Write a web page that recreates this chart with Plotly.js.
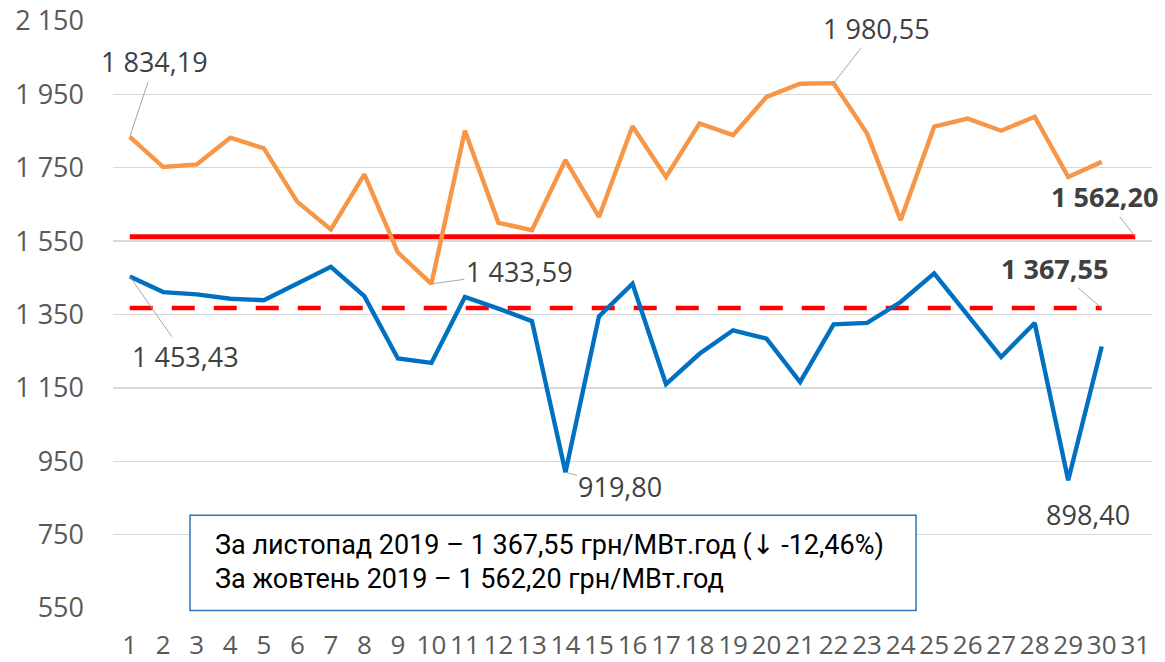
<!DOCTYPE html>
<html>
<head>
<meta charset="utf-8">
<script src="https://cdn.plot.ly/plotly-3.0.1.min.js"></script>
<style>
  html, body { margin: 0; padding: 0; background: #ffffff; }
  #chart { width: 1165px; height: 662px; }
</style>
</head>
<body>
<div id="chart"></div>
<script>
// Days of the month (category axis)
const days = ['1','2','3','4','5','6','7','8','9','10','11','12','13','14','15','16','17','18','19','20','21','22','23','24','25','26','27','28','29','30','31'];

// Daily prices, October 2019 (orange)
const octPrices = [1834.19, 1752, 1759, 1832, 1803, 1657, 1582, 1732, 1519, 1433.59,
                   1851, 1600, 1580, 1771, 1616, 1863, 1725, 1871, 1839, 1943,
                   1979, 1980.55, 1843, 1607, 1862, 1884, 1851, 1889, 1725, 1766];

// Daily prices, November 2019 (blue)
const novPrices = [1453.43, 1411, 1405, 1393, 1389, 1436, 1480, 1400, 1230, 1218,
                   1398, 1366, 1332, 919.80, 1345, 1434, 1160, 1243, 1307, 1284,
                   1166, 1323, 1327, 1384, 1462, 1348, 1234, 1327, 898.40, 1263];

// Monthly averages
const octAvg = 1562.20;
const novAvg = 1367.55;
const octAvgSpan = ['1', '31'];
const novAvgSpan = ['1', '30'];

// Y-axis ticks
const yTickStart = 550;
const yTickStep = 200;
const yRange = [550, 2150];

// Labelled points
const labelPoints = [
  {day: '1',  value: 1834.19, text: '1 834,19', bold: false, ax: 25,  ay: -75, arrow: true},
  {day: '22', value: 1980.55, text: '1 980,55', bold: false, ax: 43,  ay: -55, arrow: true},
  {day: '10', value: 1433.59, text: '1 433,59', bold: false, ax: 88,  ay: -12, arrow: true},
  {day: '1',  value: 1453.43, text: '1 453,43', bold: false, ax: 56,  ay: 80,  arrow: true},
  {day: '14', value: 919.80,  text: '919,80',   bold: false, ax: 55,  ay: 14,  arrow: true},
  {day: '29', value: 898.40,  text: '898,40',   bold: false, ax: 20,  ay: 34,  arrow: false},
  {day: '31', value: 1562.20, text: '1 562,20', bold: true,  ax: -31, ay: -40, arrow: true},
  {day: '30', value: 1367.55, text: '1 367,55', bold: true,  ax: -47, ay: -40, arrow: true}
];

const boxLines = [
  'За листопад 2019 – 1 367,55 грн/МВт.год (<span style="font-family:\'DejaVu Sans\'">↓</span> -12,46%)',
  'За жовтень 2019 – 1 562,20 грн/МВт.год'
];

const traces = [
  {
    x: octAvgSpan, y: [octAvg, octAvg], type: 'scatter', mode: 'lines',
    name: 'Середня жовтень 2019',
    line: {color: '#FF0000', width: 5}, hoverinfo: 'skip'
  },
  {
    x: novAvgSpan, y: [novAvg, novAvg], type: 'scatter', mode: 'lines',
    name: 'Середня листопад 2019',
    line: {color: '#FF0000', width: 4.5, dash: '23px,19px'}, hoverinfo: 'skip'
  },
  {
    x: days.slice(0, octPrices.length), y: octPrices, type: 'scatter', mode: 'lines',
    name: 'Жовтень 2019',
    line: {color: '#F79646', width: 4.4}
  },
  {
    x: days.slice(0, novPrices.length), y: novPrices, type: 'scatter', mode: 'lines',
    name: 'Листопад 2019',
    line: {color: '#0070C0', width: 4.4}
  }
];

const annotations = labelPoints.map(p => ({
  x: days.indexOf(p.day), y: p.value, xref: 'x', yref: 'y',
  text: p.bold ? '<b>' + p.text + '</b>' : p.text,
  showarrow: true,
  arrowhead: 0,
  arrowwidth: 1,
  arrowcolor: p.arrow ? '#A6A6A6' : 'rgba(0,0,0,0)',
  ax: p.ax, ay: p.ay,
  xanchor: 'center', yanchor: 'middle',
  font: {family: '"Open Sans", sans-serif', size: 27, color: '#404040'}
}));

const boxFont = {family: '"Liberation Sans Narrow", "Arial Narrow", Roboto, sans-serif', size: 27, color: '#000000'};
annotations.push({
  xref: 'paper', yref: 'paper', x: 0.0962, y: 0.1067,
  xanchor: 'left', yanchor: 'middle', showarrow: false,
  text: boxLines[0], font: boxFont
});
annotations.push({
  xref: 'paper', yref: 'paper', x: 0.0962, y: 0.0488,
  xanchor: 'left', yanchor: 'middle', showarrow: false,
  text: boxLines[1], font: boxFont
});

const layout = {
  width: 1165, height: 662,
  margin: {l: 113, r: 13, t: 21, b: 54},
  paper_bgcolor: '#ffffff', plot_bgcolor: '#ffffff',
  showlegend: false,
  separators: ', ',
  xaxis: {
    type: 'category',
    categoryorder: 'array', categoryarray: days,
    range: [-0.5, days.length - 0.5],
    showgrid: false, zeroline: false, showline: false,
    ticks: '', ticklabelstandoff: 19,
    tickfont: {family: '"Open Sans", sans-serif', size: 26, color: '#595959'}
  },
  yaxis: {
    range: yRange,
    tick0: yTickStart, dtick: yTickStep,
    separatethousands: true,
    showgrid: true, gridcolor: '#D9D9D9', gridwidth: 1.3,
    zeroline: false, showline: false, ticks: '',
    ticklabelstandoff: 28,
    tickfont: {family: '"Open Sans", sans-serif', size: 27, color: '#595959'}
  },
  shapes: [{
    type: 'rect', xref: 'paper', yref: 'paper',
    x0: 0.0741, x1: 0.7729, y0: -0.0041, y1: 0.1579,
    line: {color: '#2E75B6', width: 1.5},
    fillcolor: '#ffffff', layer: 'above'
  }],
  annotations: annotations
};

Plotly.newPlot('chart', traces, layout, {displayModeBar: false, staticPlot: true});
</script>
</body>
</html>
